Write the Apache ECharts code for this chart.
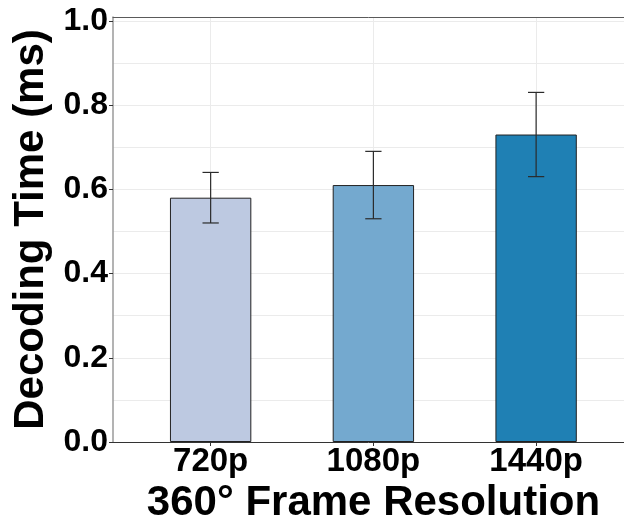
<!DOCTYPE html>
<html>
<head>
<meta charset="utf-8">
<script src="https://cdn.jsdelivr.net/npm/echarts@6/dist/echarts.min.js"></script>
<style>
  html, body { margin: 0; padding: 0; background: #ffffff; }
  #chart { width: 624px; height: 520px; }
</style>
</head>
<body>
<div id="chart"></div>
<script>
// Frame resolutions and mean decoding time with error bounds
const categories = ['720p', '1080p', '1440p'];
const decodeMean = [0.58, 0.61, 0.73];
const decodeLow = [0.52, 0.53, 0.63];
const decodeHigh = [0.64, 0.69, 0.83];
const barColors = ['#bdc9e1', '#74a9cf', '#1f80b4'];
const yTicks = [0, 0.2, 0.4, 0.6, 0.8, 1.0];

const FONT = '"Liberation Sans", Arial, sans-serif';
const positions = categories.map((_, i) => i + 1);

const chart = echarts.init(document.getElementById('chart'), null, { renderer: 'canvas' });

const option = {
  backgroundColor: '#ffffff',
  animation: false,
  grid: {
    left: 113, right: 0, top: 17, bottom: 78,
    outerBoundsMode: 'none',
    containLabel: false,
    show: false
  },
  xAxis: [
    {
      type: 'value',
      // the panel runs on past the right edge of the page
      min: 0.4, max: 3.54,
      name: '360° Frame Resolution',
      nameLocation: 'middle',
      nameGap: 37,
      nameTextStyle: {
        fontFamily: FONT, fontWeight: 'bold', fontSize: 42, color: '#000',
        padding: [0, 0, 0, 10]
      },
      axisLine: { show: true, lineStyle: { color: '#333333', width: 1 } },
      axisTick: { show: true, customValues: positions, length: 4, lineStyle: { color: '#333333' } },
      axisLabel: {
        customValues: positions,
        margin: 3,
        fontFamily: FONT, fontWeight: 'bold', fontSize: 33, color: '#000',
        formatter: v => categories[Math.round(v) - 1] || ''
      },
      splitLine: { show: true, lineStyle: { color: '#ebebeb', width: 1 } }
    },
    {
      // top edge of the panel
      type: 'value',
      position: 'top',
      min: 0.4, max: 3.54,
      axisLine: { show: true, onZero: false, lineStyle: { color: '#5a5a5a', width: 1 } },
      axisTick: { show: false },
      axisLabel: { show: false },
      splitLine: { show: false }
    }
  ],
  yAxis: [
    {
      type: 'value',
      min: 0, max: 1.009,
      name: 'Decoding Time (ms)',
      nameLocation: 'middle',
      nameGap: 58,
      nameTextStyle: { fontFamily: FONT, fontWeight: 'bold', fontSize: 42, color: '#000' },
      axisLine: { show: true, lineStyle: { color: '#9a9a9a', width: 1.5 } },
      axisTick: { show: true, customValues: yTicks, length: 4, lineStyle: { color: '#333333' } },
      axisLabel: {
        customValues: yTicks,
        margin: 5,
        fontFamily: FONT, fontWeight: 'bold', fontSize: 32, color: '#000',
        formatter: v => v.toFixed(1)
      },
      splitLine: { show: false }
    },
    {
      // horizontal guide lines every 0.1
      type: 'value',
      min: 0, max: 1.009,
      interval: 0.1,
      axisLine: { show: false },
      axisTick: { show: false },
      axisLabel: { show: false },
      splitLine: { show: true, lineStyle: { color: '#ebebeb', width: 1 } }
    }
  ],
  series: [
    {
      type: 'bar',
      barWidth: '50%',
      z: 2,
      data: decodeMean.map((v, i) => ({
        value: [positions[i], v],
        itemStyle: { color: barColors[i], borderColor: '#222222', borderWidth: 1 }
      }))
    },
    {
      type: 'custom',
      z: 3,
      data: decodeMean.map((_, i) => [positions[i], decodeLow[i], decodeHigh[i]]),
      renderItem: function (params, api) {
        const x = api.value(0);
        const lo = api.coord([x, api.value(1)]);
        const hi = api.coord([x, api.value(2)]);
        const half = api.size([0.05, 0])[0];
        const style = { stroke: '#2a2a2a', lineWidth: 1.2 };
        return {
          type: 'group',
          children: [
            { type: 'line', shape: { x1: lo[0], y1: lo[1], x2: hi[0], y2: hi[1] }, style },
            { type: 'line', shape: { x1: hi[0] - half, y1: hi[1], x2: hi[0] + half, y2: hi[1] }, style },
            { type: 'line', shape: { x1: lo[0] - half, y1: lo[1], x2: lo[0] + half, y2: lo[1] }, style }
          ]
        };
      }
    }
  ]
};

chart.setOption(option);
</script>
</body>
</html>
